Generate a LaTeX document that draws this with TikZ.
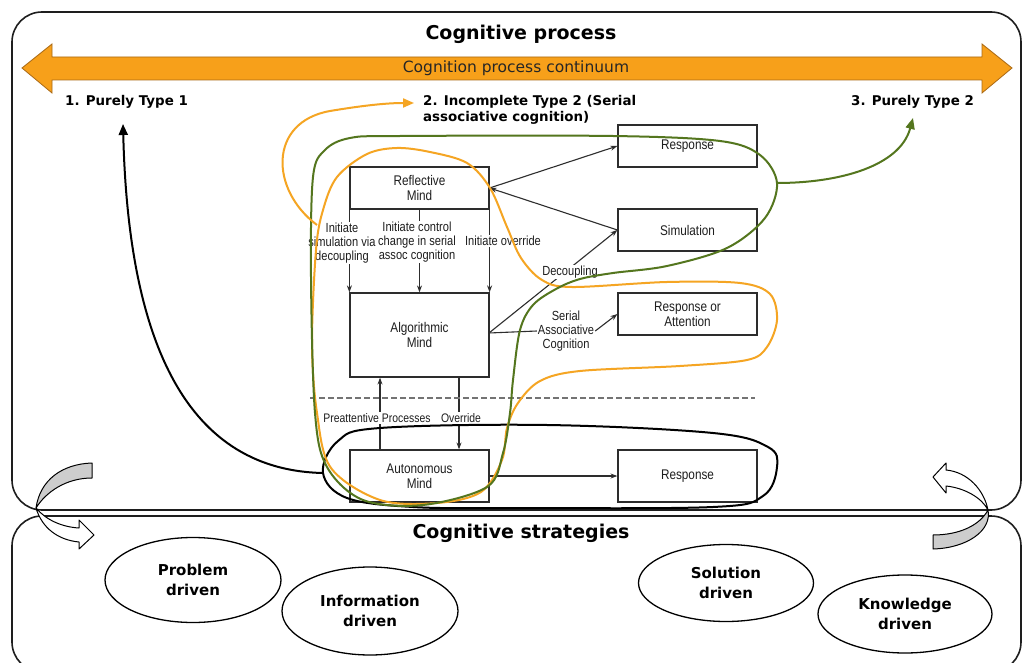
\documentclass[tikz,border=0pt]{standalone}
\usepackage{fontspec}
\setmainfont{DejaVu Sans}
\newfontfamily\boxfont[FakeStretch=0.84]{Liberation Sans}
\usetikzlibrary{arrows.meta,shapes.geometric}
\definecolor{orangeA}{RGB}{247,160,26}
\definecolor{orangeB}{RGB}{170,105,20}
\definecolor{orangeL}{RGB}{245,165,35}
\definecolor{greenL}{RGB}{84,118,30}
\definecolor{frameC}{RGB}{30,30,30}
\definecolor{boxline}{RGB}{45,45,45}
\definecolor{boxtext}{RGB}{30,30,30}
\definecolor{bandgray}{RGB}{205,205,205}
\begin{document}
\begin{tikzpicture}[x=1pt,y=-1pt,
  mbox/.style={draw=boxline, line width=1.2pt, minimum width=139pt, minimum height=42pt, inner sep=0pt, align=center, font=\boxfont\fontsize{14}{15}\selectfont, text=boxtext},
  blab/.style={fill=white, inner sep=1pt, align=center, font=\boxfont\fontsize{13.2}{14}\selectfont, text=boxtext},
  slab/.style={blab, font=\boxfont\fontsize{12.4}{14}\selectfont},
  arr/.style={draw=boxline, line width=1.1pt, -{Stealth[length=7pt,width=5pt]}},
  plainln/.style={draw=boxline, line width=1.1pt},
  loopO/.style={draw=orangeL, line width=2pt},
  loopG/.style={draw=greenL, line width=2pt},
  loopK/.style={draw=black, line width=2pt},
  ell/.style={ellipse, draw=black, line width=1.3pt, align=center, font=\bfseries\fontsize{15}{20}\selectfont, inner sep=0pt},
  hdr/.style={font=\bfseries\fontsize{19}{22}\selectfont},
  typelab/.style={font=\bfseries\fontsize{13.4}{16}\selectfont, align=left, inner sep=0pt},
  band/.style={draw=black, line width=1pt, line join=round}
]
\useasboundingbox (0,0) rectangle (1023,663);
\fill[white] (0,0) rectangle (1023,663);

% frames
\draw[frameC, line width=1.6pt, rounded corners=30pt] (12,12) rectangle (1021,510);
\draw[frameC, line width=1.6pt, rounded corners=30pt] (12,516) rectangle (1021,672);

% titles
\node[hdr] (title) at (521,34) {Cognitive process};
\node[hdr] (title2) at (521,533) {Cognitive strategies};

% orange continuum arrow
\path[fill=orangeA, draw=orangeB, line width=0.8pt] (22,68) -- (52,44) -- (52,57) -- (982,57) -- (982,44) -- (1012,68) -- (982,93) -- (982,80) -- (52,80) -- (52,93) -- cycle;
\node[font=\fontsize{15.5}{18}\selectfont, text=black!85] (cont) at (516,68) {Cognition process continuum};

% type labels
\node[typelab, anchor=north west] (t1) at (65,95) {1. Purely Type 1};
\node[typelab, anchor=north west] (t2) at (423,95) {2. Incomplete Type 2 (Serial\\associative cognition)};
\node[typelab, anchor=north west] (t3) at (851,95) {3. Purely Type 2};

% boxes
\node[mbox] (refl) at (419.5,188) {Reflective\\Mind};
\node[mbox, minimum height=84pt] (alg) at (419.5,335) {Algorithmic\\Mind};
\node[mbox, minimum height=52pt] (auto) at (419.5,476) {Autonomous\\Mind};
\node[mbox] (resp1) at (687.5,146) {Response};
\node[mbox] (sim) at (687.5,230) {Simulation};
\node[mbox] (roa) at (687.5,314) {Response or\\Attention};
\node[mbox, minimum height=52pt] (resp2) at (687.5,476) {Response};

% reflective -> algorithmic arrows
\draw[arr] (refl.south west) -- (alg.north west);
\draw[arr] (refl.south) -- (alg.north);
\draw[arr] (refl.south east) -- (alg.north east);
\node[blab] (lsim) at (342,243) {Initiate\\simulation via\\decoupling};
\node[blab] (lctl) at (417,242) {Initiate control\\change in serial\\assoc cognition};
\node[blab] (lovr) at (503,241) {Initiate override};

% right side arrows
\draw[arr] (refl.east) -- (resp1.west);
\draw[arr] (sim.west) -- (refl.east);
\coordinate (algR) at (489,333);
\draw[arr] (algR) -- (sim.west);
\node[blab] (ldec) at (570,272) {Decoupling};
\node[blab] (lser) at (566,331) {Serial\\Associative\\Cognition};
\draw[plainln] (algR) -- (lser.west);
\draw[arr] (lser.east) -- (roa.west);

% algorithmic <-> autonomous
\draw[arr] (auto.north -| 380,0) -- (alg.south -| 380,0);
\draw[arr] (alg.south -| 459,0) -- (auto.north -| 459,0);
\node[slab] (lpre) at (377,418) {Preattentive Processes};
\node[slab] (lovr2) at (461,418) {Override};
\draw[arr] (auto.east) -- (resp2.west);

% dashed separator
\draw[draw=black!55, line width=1.4pt, dash pattern=on 6pt off 3pt] (310,398) -- (755,398);

% loops
\draw[loopK] plot[smooth cycle, tension=0.6] coordinates {(323,473) (338,441) (380,428) (547,425) (713,433) (768,447) (777,467) (763,496) (713,507) (513,508) (413,507) (347,498)};
\draw[loopO] plot[smooth cycle, tension=0.55] coordinates {(323,210) (337,177) (367,154) (397,148) (430,152) (467,163) (490,188) (507,227) (521,258) (542,280) (572,287) (667,282) (740,283) (770,294) (777,320) (767,347) (747,360) (680,366) (580,371) (540,381) (518,403) (507,428) (502,460) (481,492) (437,503) (380,500) (331,468) (317,413) (312,343) (316,250)};
\draw[loopG] plot[smooth cycle, tension=0.55] coordinates {(313,177) (325,150) (350,138) (400,136) (613,136) (720,141) (760,155) (777,183) (765,218) (727,248) (667,266) (613,273) (580,279) (556,289) (533,305) (520,330) (513,380) (510,413) (503,453) (487,487) (423,505) (363,500) (327,467) (315,413) (311,277)};

% loop arrows
\coordinate (kStart) at (323,473);
\coordinate (kTip) at (123,124);
\draw[black, line width=2pt, -{Triangle[length=11pt,width=9pt]}] (kStart) .. controls (180,470) and (128,330) .. (kTip);
\coordinate (oStart) at (317,225);
\coordinate (oTip) at (414,103);
\draw[orangeL, line width=2pt, -{Triangle[length=11pt,width=9pt]}] (oStart) .. controls (270,190) and (268,122) .. (330,111) .. controls (360,106) and (385,103) .. (oTip);
\coordinate (gStart) at (777,183);
\coordinate (gTip) at (913,118);
\draw[greenL, line width=2pt, -{Triangle[length=11pt,width=9pt]}] (gStart) .. controls (840,183) and (900,166) .. (gTip);

% corner curved arrows (left)
\path[band, fill=bandgray] (92,463) .. controls (62,464) and (40,480) .. (36,508) .. controls (46,492) and (66,478) .. (92,478) -- cycle;
\path[band, fill=white] (36,508) .. controls (42,528) and (58,540) .. (79,542) -- (79,549) -- (94,535) -- (79,520) -- (79,528) .. controls (62,527) and (46,520) .. (36,508) -- cycle;
% corner curved arrows (right)
\path[band, fill=white] (988,510) .. controls (984,490) and (968,472) .. (946,470) -- (946,463) -- (933,477) -- (946,493) -- (946,486) .. controls (965,488) and (982,498) .. (988,510) -- cycle;
\path[band, fill=bandgray] (988,510) .. controls (992,530) and (968,548) .. (933,549) -- (933,535) .. controls (960,535) and (980,525) .. (988,510) -- cycle;

% strategy ellipses
\node[ell, minimum width=176pt, minimum height=85pt] (prob) at (193,580) {Problem\\driven};
\node[ell, minimum width=176pt, minimum height=88pt] (info) at (370,611) {Information\\driven};
\node[ell, minimum width=175pt, minimum height=77pt] (sol) at (726,583) {Solution\\driven};
\node[ell, minimum width=174pt, minimum height=78pt] (know) at (905,614) {Knowledge\\driven};
\end{tikzpicture}
\end{document}
